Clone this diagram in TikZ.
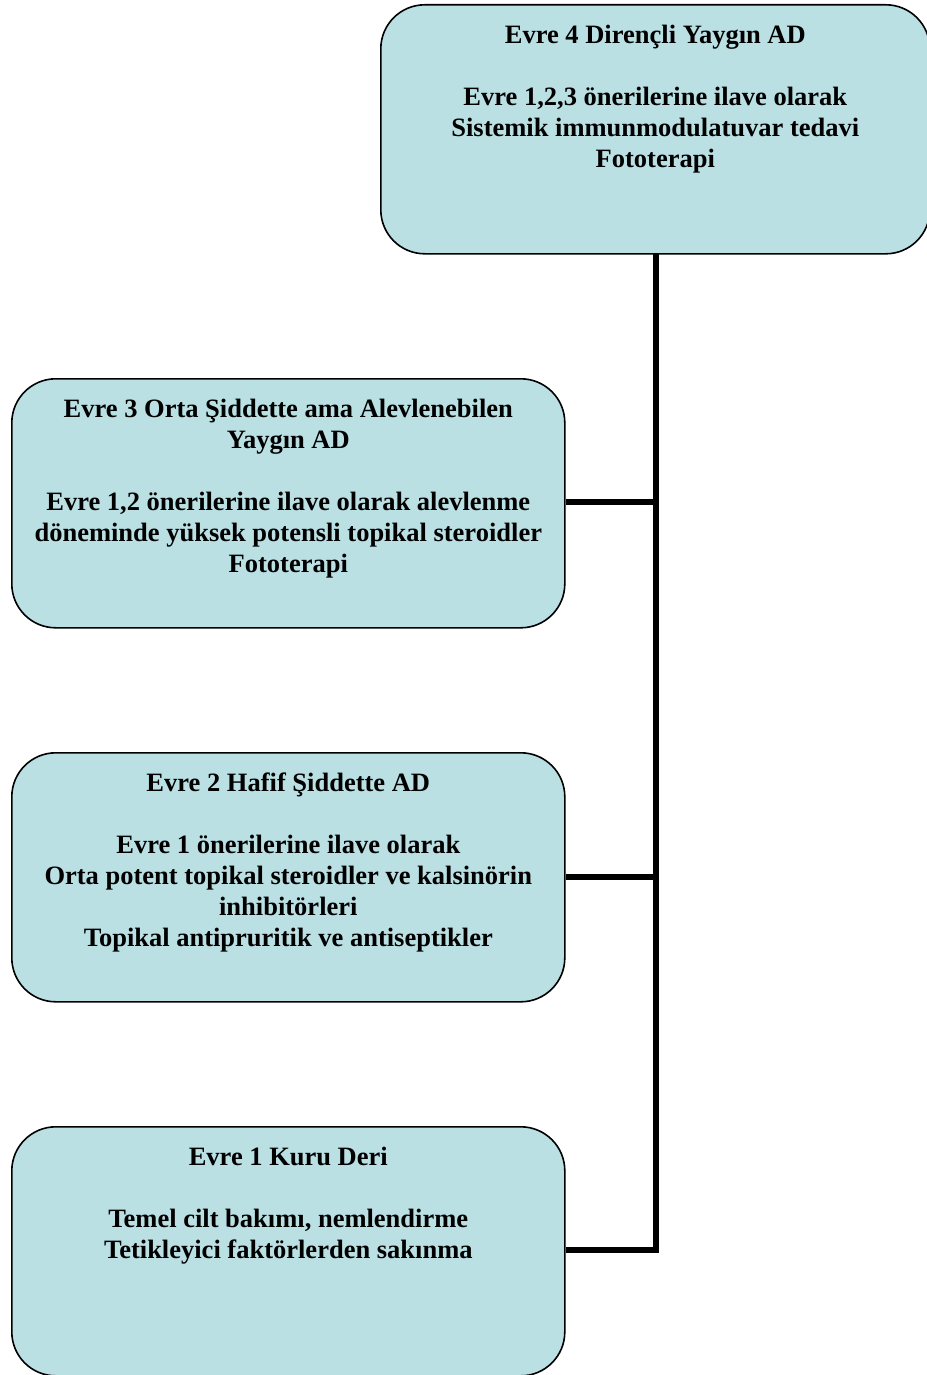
\documentclass[tikz,border=0pt]{standalone}
\usepackage{fontspec}
\setmainfont{Liberation Serif}
\definecolor{boxfill}{RGB}{186,224,228}
\begin{document}
\begin{tikzpicture}[x=1pt,y=-1pt,
  stagebox/.style={draw=black,line width=1.6pt,fill=boxfill,rounded corners=44pt,
    minimum width=553pt,minimum height=249pt,inner sep=0pt,anchor=north west},
  stagetext/.style={anchor=north,align=center,font=\fontsize{26.5}{31}\selectfont\bfseries,inner sep=0pt},
  link/.style={line width=5.5pt,line join=miter}]
\useasboundingbox (0,0) rectangle (926,1375);
\node[stagebox,minimum width=549pt] (b4) at (380,4) {};
\node[stagebox] (b3) at (11,378) {};
\node[stagebox] (b2) at (11,752) {};
\node[stagebox] (b1) at (11,1126) {};
\node[stagetext] (t4) at ([yshift=-21pt]b4.north) {Evre 4 Direnç\-li Yaygın AD\\[31pt]Evre 1,2,3 önerilerine ilave olarak\\Sistemik immunmodulatuvar tedavi\\Fototerapi};
\node[stagetext] (t3) at ([yshift=-20.5pt]b3.north) {Evre 3 Orta Şiddette ama Alevlenebilen\\Yaygın AD\\[31pt]Evre 1,2 önerilerine ilave olarak alevlenme\\döneminde yüksek potensli topikal steroidler\\Fototerapi};
\node[stagetext] (t2) at ([yshift=-20.5pt]b2.north) {Evre 2 Hafif Şiddette AD\\[31pt]Evre 1 önerilerine ilave olarak\\Orta potent topikal steroidler ve kalsinörin\\inhibitörleri\\Topikal antipruritik ve antiseptikler};
\node[stagetext] (t1) at ([yshift=-20.5pt]b1.north) {Evre 1 Kuru Deri\\[31pt]Temel cilt bakımı, nemlendirme\\Tetikleyici faktörlerden sakınma};
\coordinate (top) at (656,254);
\coordinate (s3) at (656,502);
\coordinate (s2) at (656,877);
\coordinate (s1) at (656,1250);
\draw[link] (top) -- (s1) -- (b1.east |- s1);
\draw[link] (s3) -- (b3.east |- s3);
\draw[link] (s2) -- (b2.east |- s2);
\end{tikzpicture}
\end{document}
